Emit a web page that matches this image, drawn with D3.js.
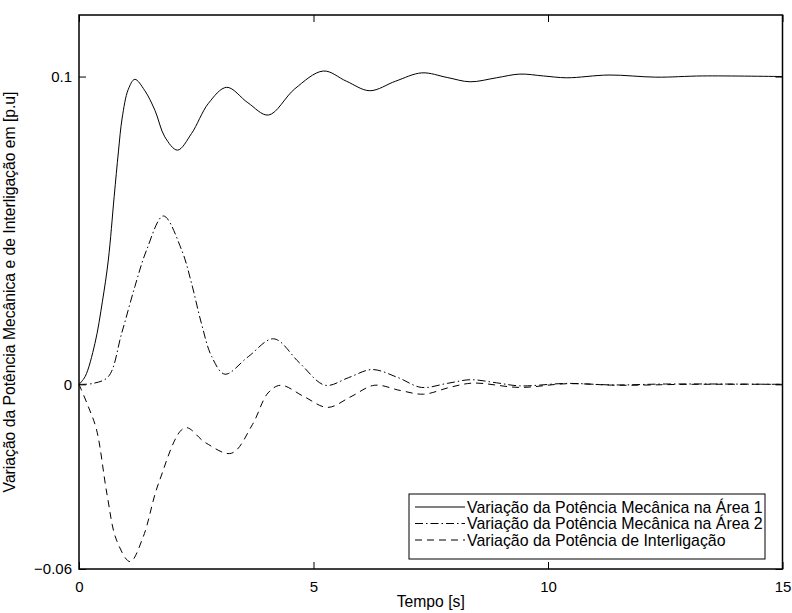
<!DOCTYPE html>
<html>
<head>
<meta charset="utf-8">
<script src="https://cdn.jsdelivr.net/npm/d3@7"></script>
<style>
  html, body { margin: 0; padding: 0; background: #fff; }
  svg { display: block; }
  text { font-family: "Liberation Sans", Arial, Helvetica, sans-serif; fill: #000; }
</style>
</head>
<body>
<svg id="chart" width="792" height="613"></svg>
<script>
// Time samples [s] and responses [p.u] for each curve
const timeArea1 = [0, 0.13, 0.34, 0.5, 0.625, 0.75, 0.84, 0.92, 1.05, 1.19, 1.4, 1.62, 1.83, 2.1, 2.4, 2.76, 3.15, 3.6, 4.04, 4.6, 5.21, 5.7, 6.2, 6.75, 7.31, 7.85, 8.34, 8.9, 9.4, 9.9, 10.4, 11.3, 12.3, 13.3, 15];
const mechArea1 = [0, 0.0025, 0.0133, 0.027, 0.0404, 0.061, 0.0755, 0.0865, 0.0958, 0.0991, 0.0955, 0.089, 0.0804, 0.0761, 0.0815, 0.0913, 0.0965, 0.0915, 0.0875, 0.096, 0.1018, 0.0985, 0.0954, 0.0985, 0.1012, 0.0997, 0.0983, 0.0996, 0.1008, 0.1002, 0.0996, 0.1005, 0.0998, 0.1002, 0.1];

const timeArea2 = [0, 0.3, 0.625, 0.91, 1.19, 1.44, 1.8, 2.19, 2.4, 2.61, 2.83, 3.11, 3.61, 4.15, 4.7, 5.25, 5.75, 6.25, 6.8, 7.3, 7.85, 8.35, 8.9, 9.4, 10.4, 11.4, 12.5, 15];
const mechArea2 = [0, 0.0003, 0.0025, 0.0166, 0.0317, 0.0436, 0.0547, 0.0436, 0.0328, 0.0198, 0.009, 0.0033, 0.009, 0.0148, 0.007, -0.0003, 0.0022, 0.0048, 0.0022, -0.001, 0.0003, 0.0015, 0.0005, -0.0005, 0.0003, -0.0002, 0.0001, 0];

const timeTie = [0, 0.2, 0.375, 0.6, 0.8, 1.09, 1.37, 1.7, 2.26, 2.7, 3.25, 3.7, 4.03, 4.3, 4.8, 5.3, 5.8, 6.3, 6.85, 7.35, 7.9, 8.4, 9.4, 10.4, 11.5, 13, 15];
const tieLine = [0, -0.0073, -0.0148, -0.036, -0.0506, -0.0576, -0.0495, -0.032, -0.0141, -0.019, -0.0224, -0.013, -0.0028, -0.0003, -0.004, -0.0075, -0.004, -0.0003, -0.002, -0.0032, -0.001, 0.0004, -0.001, 0.0002, -0.0003, 0, 0];

const xTicks = [0, 5, 10, 15];
const yTicks = [-0.06, 0, 0.1];
const yTickLabels = ["\u22120.06", "0", "0.1"];

const seriesNames = [
  "Variação da Potência Mecânica na Área 1",
  "Variação da Potência Mecânica na Área 2",
  "Variação da Potência de Interligação"
];

const series = [
  { name: seriesNames[0], t: timeArea1, v: mechArea1, dash: null },
  { name: seriesNames[1], t: timeArea2, v: mechArea2, dash: "8,3,1.5,3" },
  { name: seriesNames[2], t: timeTie, v: tieLine, dash: "7,5" }
];

const svg = d3.select("#chart");
const margin = { left: 79, top: 15, right: 9.5, bottom: 44 };
const W = 792, H = 613;
const x0 = margin.left, x1 = W - margin.right;
const y0 = H - margin.bottom, y1 = margin.top;

const x = d3.scaleLinear().domain([0, 15]).range([x0, x1]);
const y = d3.scaleLinear().domain([-0.06, 0.12]).range([y0, y1]);

const g = svg.append("g");

// curves
const line = d3.line()
  .x(d => x(d[0]))
  .y(d => y(d[1]))
  .curve(d3.curveCatmullRom.alpha(0.5));

series.forEach(s => {
  const pts = s.t.map((t, i) => [t, s.v[i]]);
  g.append("path")
    .attr("d", line(pts))
    .attr("fill", "none")
    .attr("stroke", "#000")
    .attr("stroke-width", 1)
    .attr("stroke-dasharray", s.dash);
});

// axes: ticks pointing inward, mirrored on top and right
const tickLen = 7;
const fontTick = "15px";
const bottomAxis = d3.axisBottom(x).tickValues(xTicks).tickSizeInner(-tickLen).tickSizeOuter(0).tickPadding(12);
const topAxis = d3.axisTop(x).tickValues(xTicks).tickSizeInner(-tickLen).tickSizeOuter(0).tickFormat("");
const leftAxis = d3.axisLeft(y).tickValues(yTicks).tickSizeInner(-tickLen).tickSizeOuter(0).tickPadding(7)
  .tickFormat((d, i) => yTickLabels[i]);
const rightAxis = d3.axisRight(y).tickValues(yTicks).tickSizeInner(-tickLen).tickSizeOuter(0).tickFormat("");

function styleAxis(sel) {
  sel.select(".domain").remove();
  sel.selectAll("line").attr("stroke", "#000").attr("stroke-width", 1);
  sel.selectAll("text").attr("font-size", fontTick).attr("fill", "#000")
    .style("font-family", '"Liberation Sans", Arial, sans-serif');
}

g.append("g").attr("transform", `translate(0,${y0})`).call(bottomAxis).call(styleAxis);
g.append("g").attr("transform", `translate(0,${y1})`).call(topAxis).call(styleAxis);
g.append("g").attr("transform", `translate(${x0},0)`).call(leftAxis).call(styleAxis);
g.append("g").attr("transform", `translate(${x1},0)`).call(rightAxis).call(styleAxis);

// frame
g.append("rect")
  .attr("x", x0).attr("y", y1)
  .attr("width", x1 - x0).attr("height", y0 - y1)
  .attr("fill", "none").attr("stroke", "#000").attr("stroke-width", 1.5);

// axis labels
svg.append("text")
  .attr("x", (x0 + x1) / 2).attr("y", 607)
  .attr("text-anchor", "middle").attr("font-size", "15.7px")
  .text("Tempo [s]");

svg.append("text")
  .attr("transform", `translate(15,${292}) rotate(-90)`)
  .attr("text-anchor", "middle").attr("font-size", "15.7px")
  .text("Variação da Potência Mecânica e de Interligação em [p.u]");

// legend
const legend = svg.append("g");
const lx0 = 409, ly0 = 494, lw = 356, lh = 65;
legend.append("rect")
  .attr("x", lx0).attr("y", ly0).attr("width", lw).attr("height", lh)
  .attr("fill", "#fff").attr("stroke", "#000").attr("stroke-width", 1);

const rowY = d3.scalePoint().domain(seriesNames).range([507, 540]);
series.forEach(s => {
  const ry = rowY(s.name);
  legend.append("line")
    .attr("x1", 415).attr("x2", 465).attr("y1", ry).attr("y2", ry)
    .attr("stroke", "#000").attr("stroke-width", 1)
    .attr("stroke-dasharray", s.dash);
  legend.append("text")
    .attr("x", 467).attr("y", ry + 5.5)
    .attr("font-size", "15.9px")
    .text(s.name);
});
</script>
</body>
</html>
